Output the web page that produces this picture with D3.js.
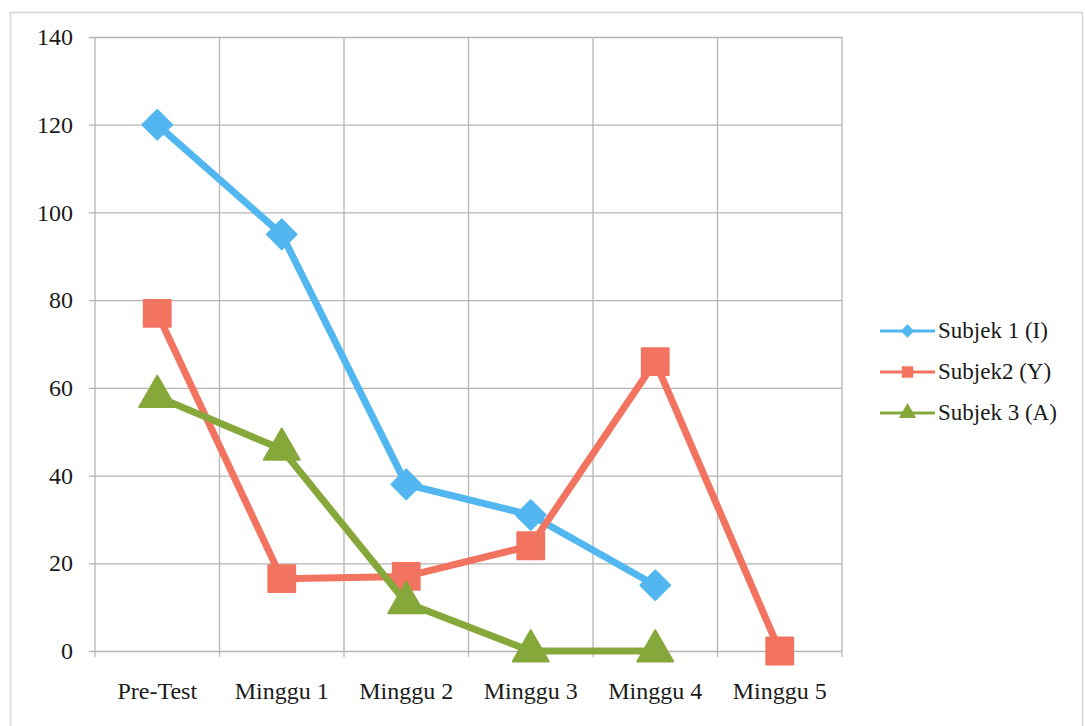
<!DOCTYPE html>
<html>
<head>
<meta charset="utf-8">
<script src="https://cdn.jsdelivr.net/npm/d3@7"></script>
<style>
  body { margin: 0; background: #fff; }
</style>
</head>
<body>
<div id="graph"></div>
<script>
// data
const categories = ["Pre-Test", "Minggu 1", "Minggu 2", "Minggu 3", "Minggu 4", "Minggu 5"];
const subjek1 = [120, 95, 38, 31, 15, null];
const subjek2 = [77, 16.5, 17, 24, 66, 0];
const subjek3 = [58, 46, 11, 0, 0, null];
const yTicks = [0, 20, 40, 60, 80, 100, 120, 140];

const seriesNames = ["Subjek 1 (I)", "Subjek2 (Y)", "Subjek 3 (A)"];
const seriesColors = ["#52b6f0", "#f2735f", "#86a83b"];
const seriesShapes = [d3.symbolSquare, d3.symbolSquare, d3.symbolTriangle];
const seriesRotate = [45, 0, 0];
const seriesValues = [subjek1, subjek2, subjek3];

var svgWidth = 1085, svgHeight = 726;
var margin = { top: 37, left: 95, right: 243, bottom: 75 };
var chartWidth = svgWidth - margin.left - margin.right;
var chartHeight = svgHeight - margin.top - margin.bottom;
var serif = "Liberation Serif";

var svg = d3.select("#graph").append("svg")
  .attr("width", svgWidth)
  .attr("height", svgHeight);

// outer frame
svg.append("rect")
  .attr("x", 10.5).attr("y", 12.5)
  .attr("width", 1072).attr("height", 720)
  .attr("fill", "none").attr("stroke", "#d4d4d4").attr("stroke-width", 1.5);

var chartGroup = svg.append("g")
  .attr("transform", `translate(${margin.left}, ${margin.top})`);

var xBand = d3.scaleBand().domain(categories).range([0, chartWidth]);
var yScale = d3.scaleLinear().domain([0, 140]).range([chartHeight, 0]);

// horizontal grid + y labels
chartGroup.append("g")
  .call(d3.axisLeft(yScale).tickValues(yTicks).tickSize(-chartWidth).tickPadding(22))
  .call(g => g.select(".domain").remove())
  .call(g => g.selectAll(".tick line").attr("stroke", "#b5b5b5").attr("stroke-width", 1.3).attr("x1", -6).attr("x2", chartWidth))
  .call(g => g.selectAll(".tick text").attr("font-family", serif).attr("font-size", 24).attr("fill", "#1a1a1a"));

// vertical grid at band edges
var edges = categories.map(c => xBand(c)).concat([chartWidth]);
chartGroup.append("g").selectAll("line").data(edges).join("line")
  .attr("x1", d => d).attr("x2", d => d)
  .attr("y1", 0).attr("y2", chartHeight + 6)
  .attr("stroke", "#b5b5b5").attr("stroke-width", 1.3);

// x labels
chartGroup.append("g")
  .attr("transform", `translate(0, ${chartHeight})`)
  .call(d3.axisBottom(xBand).tickSize(0).tickPadding(31))
  .call(g => g.select(".domain").remove())
  .call(g => g.selectAll(".tick text").attr("font-family", serif).attr("font-size", 24).attr("fill", "#1a1a1a"));

var xPos = c => xBand(c) + xBand.bandwidth() / 2;

seriesValues.forEach((vals, i) => {
  var pts = categories.map((c, j) => ({ c: c, v: vals[j] })).filter(p => p.v != null);
  var line = d3.line().x(p => xPos(p.c)).y(p => yScale(p.v));
  chartGroup.append("path")
    .attr("d", line(pts))
    .attr("fill", "none")
    .attr("stroke", seriesColors[i])
    .attr("stroke-width", 7)
    .attr("stroke-linejoin", "round");
  var sizes = [440, 720, 560];
  chartGroup.append("g").selectAll("path").data(pts).join("path")
    .attr("transform", p => `translate(${xPos(p.c)}, ${yScale(p.v)}) rotate(${seriesRotate[i]})`)
    .attr("d", d3.symbol().type(seriesShapes[i]).size(sizes[i]))
    .attr("fill", seriesColors[i])
    .attr("stroke", seriesColors[i])
    .attr("stroke-width", 2)
    .attr("stroke-linejoin", "round");
});

// legend
var legend = svg.append("g").attr("transform", "translate(880, 331)");
seriesNames.forEach((name, i) => {
  var g = legend.append("g").attr("transform", `translate(0, ${i * 41})`);
  g.append("line").attr("x1", 0).attr("x2", 55).attr("y1", 0).attr("y2", 0)
    .attr("stroke", seriesColors[i]).attr("stroke-width", 3);
  g.append("path")
    .attr("transform", `translate(27.5, 0) rotate(${seriesRotate[i]})`)
    .attr("d", d3.symbol().type(seriesShapes[i]).size(i == 0 ? 90 : 130))
    .attr("fill", seriesColors[i]);
  g.append("text").attr("x", 58).attr("y", 7)
    .attr("font-family", serif).attr("font-size", 23).attr("fill", "#1a1a1a")
    .text(name);
});
</script>
</body>
</html>
